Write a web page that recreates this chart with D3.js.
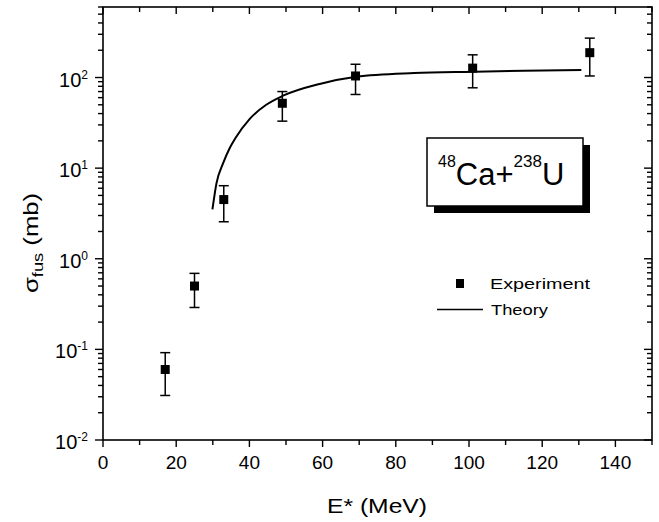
<!DOCTYPE html>
<html>
<head>
<meta charset="utf-8">
<script src="https://cdn.jsdelivr.net/npm/d3@7"></script>
<style>
  html, body { margin: 0; padding: 0; background: #fff; }
  svg { display: block; }
  text { font-family: "Liberation Sans", Arial, Helvetica, sans-serif; }
</style>
</head>
<body>
<svg id="chart" width="659" height="522"></svg>
<script>
// ---- data ----
const energies   = [17, 25, 33, 49, 69, 101, 133];
const sigmaExp   = [0.060, 0.50, 4.5, 52, 104, 127, 188];
const sigmaLow   = [0.031, 0.29, 2.56, 33, 65, 77, 104];
const sigmaHigh  = [0.092, 0.69, 6.4, 70, 140, 178, 272];

const theoryE     = [29.9, 31.0, 32.8, 34.6, 36.2, 40.1, 44.6, 49.2, 59.2, 69.2, 85, 101, 115, 130.7];
const theorySigma = [3.5, 6.8, 11.3, 16.6, 21.5, 35, 50, 63, 85, 102, 112, 116, 119, 121];

const xTickValues  = [0, 20, 40, 60, 80, 100, 120, 140];
const xMinorValues = [10, 30, 50, 70, 90, 110, 130, 150];
const yExponents   = [-2, -1, 0, 1, 2];
const legendLabels = ["Experiment", "Theory"];

// ---- layout ----
const svg = d3.select("#chart");
const L = 103, R = 652, T = 7, B = 440;

const x = d3.scaleLinear().domain([0, 150]).range([L, R]);
const y = d3.scaleLog().domain([0.01, 600]).range([B, T]);

const yMinor = [];
for (let e = -2; e <= 2; e++) {
  for (let m = 2; m <= 9; m++) {
    const v = m * Math.pow(10, e);
    if (v <= 600) yMinor.push(v);
  }
}
const yMajor = yExponents.map(e => Math.pow(10, e));

const g = svg.append("g");

// frame
g.append("rect").attr("x", L).attr("y", T).attr("width", R - L).attr("height", B - T)
  .attr("fill", "none").attr("stroke", "#000").attr("stroke-width", 1.6);

// ticks
const ticksG = g.append("g").attr("stroke", "#000").attr("stroke-width", 1.4);
xTickValues.concat(xMinorValues).forEach(v => {
  const isMajor = xTickValues.includes(v);
  const len = isMajor ? 7 : 5;
  ticksG.append("line").attr("x1", x(v)).attr("x2", x(v)).attr("y1", B).attr("y2", B + len);
  ticksG.append("line").attr("x1", x(v)).attr("x2", x(v)).attr("y1", T).attr("y2", T + len);
});
yMajor.forEach(v => {
  ticksG.append("line").attr("x1", L - 8).attr("x2", L).attr("y1", y(v)).attr("y2", y(v));
  ticksG.append("line").attr("x1", R - 8).attr("x2", R).attr("y1", y(v)).attr("y2", y(v));
});
yMinor.forEach(v => {
  ticksG.append("line").attr("x1", L - 5).attr("x2", L).attr("y1", y(v)).attr("y2", y(v));
  ticksG.append("line").attr("x1", R - 5).attr("x2", R).attr("y1", y(v)).attr("y2", y(v));
});

// x tick labels
g.append("g").selectAll("text").data(xTickValues).join("text")
  .attr("x", d => x(d)).attr("y", 469)
  .attr("text-anchor", "middle").attr("font-size", 19).attr("fill", "#000")
  .text(d => d);

// y tick labels 10^n
const yl = g.append("g").selectAll("text").data(yExponents).join("text")
  .attr("x", 88).attr("y", d => y(Math.pow(10, d)) + 9)
  .attr("text-anchor", "end").attr("font-size", 20).attr("fill", "#000");
yl.append("tspan").text("10");
yl.append("tspan").attr("dy", -8).attr("font-size", 12).text(d => d < 0 ? "-" + Math.abs(d) : d);

// axis titles
g.append("text").attr("x", 377).attr("y", 513).attr("text-anchor", "middle")
  .attr("font-size", 21).attr("fill", "#000")
  .attr("textLength", 100).attr("lengthAdjust", "spacingAndGlyphs")
  .text("E* (MeV)");

const yt = g.append("text").attr("transform", "translate(38,243) rotate(-90)")
  .attr("text-anchor", "middle").attr("font-size", 21).attr("fill", "#000")
  .attr("textLength", 100).attr("lengthAdjust", "spacingAndGlyphs");
yt.append("tspan").text("σ");
yt.append("tspan").attr("dy", 5).attr("font-size", 15).text("fus");
yt.append("tspan").attr("dy", -5).text(" (mb)");

// theory curve
const line = d3.line().x((d, i) => x(theoryE[i])).y((d, i) => y(theorySigma[i]))
  .curve(d3.curveMonotoneX);
g.append("path").datum(theorySigma).attr("d", line)
  .attr("fill", "none").attr("stroke", "#000").attr("stroke-width", 2);

// error bars
const eb = g.append("g").attr("stroke", "#000").attr("stroke-width", 1.5);
energies.forEach((e, i) => {
  const cx = x(e);
  eb.append("line").attr("x1", cx).attr("x2", cx).attr("y1", y(sigmaLow[i])).attr("y2", y(sigmaHigh[i]));
  eb.append("line").attr("x1", cx - 5).attr("x2", cx + 5).attr("y1", y(sigmaLow[i])).attr("y2", y(sigmaLow[i]));
  eb.append("line").attr("x1", cx - 5).attr("x2", cx + 5).attr("y1", y(sigmaHigh[i])).attr("y2", y(sigmaHigh[i]));
});
// markers
g.append("g").selectAll("rect").data(energies).join("rect")
  .attr("x", d => x(d) - 4.5).attr("y", (d, i) => y(sigmaExp[i]) - 4.5)
  .attr("width", 9).attr("height", 9).attr("fill", "#000");

// reaction box with shadow
const bx = 427, by = 138, bw = 156, bh = 68;
g.append("rect").attr("x", bx + 7).attr("y", by + 7).attr("width", bw).attr("height", bh).attr("fill", "#000");
g.append("rect").attr("x", bx).attr("y", by).attr("width", bw).attr("height", bh)
  .attr("fill", "#fff").attr("stroke", "#000").attr("stroke-width", 1.5);
const rt = g.append("text").attr("x", 438).attr("y", 185).attr("font-size", 31).attr("fill", "#000");
rt.append("tspan").attr("font-size", 16).attr("dy", -18).text("48");
rt.append("tspan").attr("dy", 18).text("Ca+");
rt.append("tspan").attr("font-size", 17).attr("dy", -18).text("238");
rt.append("tspan").attr("dy", 18).text("U");

// legend
g.append("rect").attr("x", 456).attr("y", 279).attr("width", 8).attr("height", 9).attr("fill", "#000");
g.append("line").attr("x1", 437).attr("x2", 483).attr("y1", 309.5).attr("y2", 309.5)
  .attr("stroke", "#000").attr("stroke-width", 1.3);
g.append("text").attr("x", 490).attr("y", 289).attr("font-size", 15).attr("fill", "#000")
  .attr("textLength", 100).attr("lengthAdjust", "spacingAndGlyphs").text(legendLabels[0]);
g.append("text").attr("x", 491).attr("y", 315).attr("font-size", 15).attr("fill", "#000")
  .attr("textLength", 57).attr("lengthAdjust", "spacingAndGlyphs").text(legendLabels[1]);
</script>
</body>
</html>
